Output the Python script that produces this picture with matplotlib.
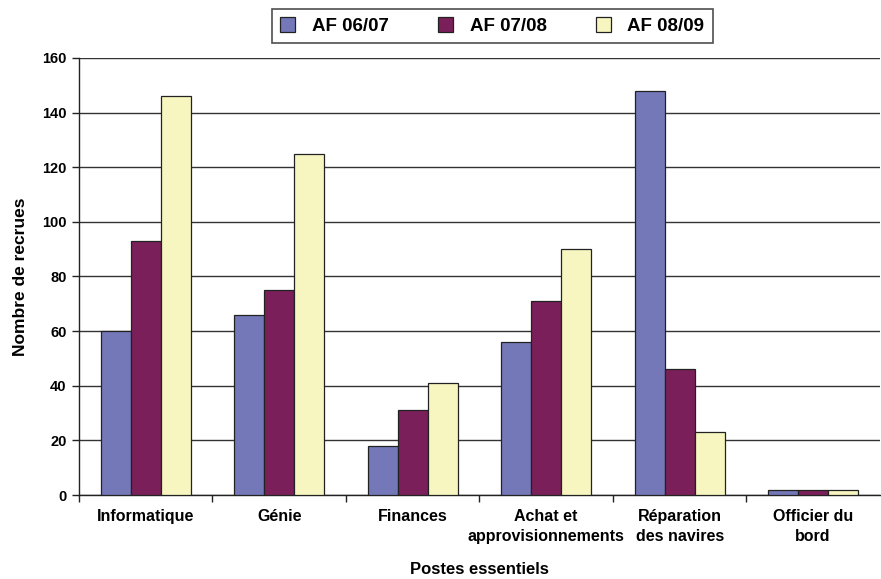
import matplotlib
matplotlib.use("Agg")
import matplotlib.pyplot as plt
import numpy as np

categories = ["Informatique", "Génie", "Finances", "Achat et\napprovisionnements",
              "Réparation\ndes navires", "Officier du\nbord"]
series_names = ["AF 06/07", "AF 07/08", "AF 08/09"]
af_0607 = [60, 66, 18, 56, 148, 2]
af_0708 = [93, 75, 31, 71, 46, 2]
af_0809 = [146, 125, 41, 90, 23, 2]
y_ticks = [0, 20, 40, 60, 80, 100, 120, 140, 160]

colors = ["#7478b8", "#7b1f5a", "#f7f6c0"]

plt.rcParams["font.family"] = ["Liberation Sans", "DejaVu Sans"]
plt.rcParams["font.weight"] = "bold"

fig = plt.figure(figsize=(8.81, 5.79), dpi=100)
ax = fig.add_axes([0.0897, 0.145, 0.909, 0.755])

x = np.arange(len(categories))
width = 0.225
for i, (vals, name) in enumerate(zip([af_0607, af_0708, af_0809], series_names)):
    ax.bar(x + (i - 1) * width, vals, width, color=colors[i], edgecolor="#222222",
           linewidth=0.9, label=name, zorder=3)

ax.set_xlim(-0.5, len(categories) - 0.5)
ax.set_ylim(0, 160)
ax.set_yticks(y_ticks)
ax.set_yticklabels([str(v) for v in y_ticks], fontsize=10.5, fontweight="bold")
ax.yaxis.grid(True, color="#333333", linewidth=1.0, zorder=0)
ax.set_axisbelow(True)

ax.set_xticks(x)
ax.set_xticklabels(categories, fontsize=11.5, fontweight="bold", linespacing=1.4)
ax.tick_params(axis="x", which="major", length=0, pad=10)
ax.set_xticks(np.arange(-0.5, len(categories) - 0.5, 1.0), minor=True)
ax.tick_params(axis="x", which="minor", length=5, width=1, color="#222222")
ax.tick_params(axis="y", length=5, width=1, color="#222222", pad=4)

for s in ["top", "right"]:
    ax.spines[s].set_visible(False)
for s in ["left", "bottom"]:
    ax.spines[s].set_color("#222222")
    ax.spines[s].set_linewidth(1.0)

ax.set_ylabel("Nombre de recrues", fontsize=12.5, fontweight="bold", labelpad=10)
ax.set_xlabel("Postes essentiels", fontsize=12, fontweight="bold", labelpad=13)

leg = fig.legend(loc="center", bbox_to_anchor=(0.559, 0.955), ncol=3,
                 frameon=True, fancybox=False, edgecolor="#222222",
                 handlelength=0.8, handleheight=0.8, columnspacing=2.6,
                 borderpad=0.45, handletextpad=0.9,
                 prop={"weight": "bold", "size": 13.5})
leg.get_frame().set_linewidth(1.2)

fig.savefig("out.png", dpi=100)
